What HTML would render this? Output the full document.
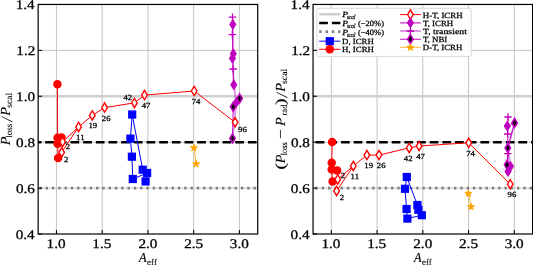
<!DOCTYPE html>
<html><head><meta charset="utf-8"><title>Plot</title>
<style>
html,body{margin:0;padding:0;background:#fff;width:533px;height:265px;overflow:hidden;}
svg{display:block;font-family:"Liberation Serif", serif;will-change:transform;text-rendering:geometricPrecision;}
svg text{stroke:#000;stroke-width:0.28px;}
svg text.ns{stroke:none;}
svg text.lg{stroke-width:0.26px;}
svg text.lb{stroke-width:0.08px;}
</style></head><body>
<svg width="533" height="265" viewBox="0 0 533 265" font-family='"Liberation Serif", serif'><defs><clipPath id="clipL"><rect x="38.15" y="4.45" width="219.54999999999998" height="229.55"/></clipPath><clipPath id="clipR"><rect x="313.05" y="4.45" width="219.55" height="229.55"/></clipPath></defs><rect width="533" height="265" fill="#fff"/><line x1="56.45" y1="4.45" x2="56.45" y2="234.0" stroke="#c4c4c4" stroke-width="1.0"/>
<line x1="102.19" y1="4.45" x2="102.19" y2="234.0" stroke="#c4c4c4" stroke-width="1.0"/>
<line x1="147.92" y1="4.45" x2="147.92" y2="234.0" stroke="#c4c4c4" stroke-width="1.0"/>
<line x1="193.66" y1="4.45" x2="193.66" y2="234.0" stroke="#c4c4c4" stroke-width="1.0"/>
<line x1="239.40" y1="4.45" x2="239.40" y2="234.0" stroke="#c4c4c4" stroke-width="1.0"/>
<line x1="38.15" y1="188.09" x2="257.7" y2="188.09" stroke="#c4c4c4" stroke-width="1.0"/>
<line x1="38.15" y1="142.18" x2="257.7" y2="142.18" stroke="#c4c4c4" stroke-width="1.0"/>
<line x1="38.15" y1="96.27" x2="257.7" y2="96.27" stroke="#c4c4c4" stroke-width="1.0"/>
<line x1="38.15" y1="50.36" x2="257.7" y2="50.36" stroke="#c4c4c4" stroke-width="1.0"/>
<g clip-path="url(#clipL)">
<line x1="38.15" y1="96.27" x2="257.7" y2="96.27" stroke="#cfcfcf" stroke-width="2.5"/>
<line x1="32.5" y1="142.18" x2="277.7" y2="142.18" stroke="#000" stroke-width="2.5" stroke-dasharray="8.7 3.97"/>
<line x1="39.3" y1="188.09" x2="277.7" y2="188.09" stroke="#808080" stroke-width="2.7" stroke-dasharray="2.4 3.9"/>
<polyline points="142.70,169.70 132.20,114.50 130.40,138.60 131.90,156.70 132.80,179.00 147.10,173.00" fill="none" stroke="#0000ff" stroke-width="1.0" stroke-linejoin="round" stroke-linecap="butt" />
<polyline points="147.10,173.00 145.60,181.40" fill="none" stroke="#0000ff" stroke-width="1.0" stroke-linejoin="round" stroke-linecap="butt" />
<rect x="138.60" y="165.60" width="8.20" height="8.20" fill="#0000ff"/>
<rect x="128.10" y="110.40" width="8.20" height="8.20" fill="#0000ff"/>
<rect x="126.30" y="134.50" width="8.20" height="8.20" fill="#0000ff"/>
<rect x="127.80" y="152.60" width="8.20" height="8.20" fill="#0000ff"/>
<rect x="128.70" y="174.90" width="8.20" height="8.20" fill="#0000ff"/>
<rect x="143.00" y="168.90" width="8.20" height="8.20" fill="#0000ff"/>
<rect x="141.50" y="177.30" width="8.20" height="8.20" fill="#0000ff"/>
<polyline points="57.40,84.20 57.60,137.70 57.60,143.80 58.10,157.90" fill="none" stroke="#ff0000" stroke-width="1.0" stroke-linejoin="round" stroke-linecap="butt" />
<polyline points="57.60,137.70 61.50,137.50" fill="none" stroke="#ff0000" stroke-width="1.0" stroke-linejoin="round" stroke-linecap="butt" />
<circle cx="57.40" cy="84.20" r="4.25" fill="#ff0000"/>
<circle cx="57.60" cy="137.70" r="4.25" fill="#ff0000"/>
<circle cx="57.60" cy="143.80" r="4.25" fill="#ff0000"/>
<circle cx="58.10" cy="157.90" r="4.25" fill="#ff0000"/>
<circle cx="61.50" cy="137.50" r="4.25" fill="#ff0000"/>
<polyline points="232.80,24.50 233.30,53.80 232.50,58.30 233.80,84.80 236.30,102.50 232.50,138.40" fill="none" stroke="#bf00bf" stroke-width="2.0" stroke-opacity="0.42" stroke-linejoin="round" stroke-linecap="butt" />
<polyline points="232.50,17.10 232.40,34.60 233.10,69.00 233.80,84.80" fill="none" stroke="#bf00bf" stroke-width="1.0" stroke-opacity="0.9" stroke-linejoin="round" stroke-linecap="butt" />
<polyline points="239.60,98.40 233.20,106.80 232.50,138.40" fill="none" stroke="#bf00bf" stroke-width="1.0" stroke-opacity="0.9" stroke-linejoin="round" stroke-linecap="butt" />
<path d="M232.80,19.60 L235.90,24.50 L232.80,29.40 L229.70,24.50 Z" fill="#bf00bf" stroke="#bf00bf" stroke-width="1.0" stroke-linejoin="miter" stroke-miterlimit="10"/>
<path d="M233.30,48.90 L236.40,53.80 L233.30,58.70 L230.20,53.80 Z" fill="#bf00bf" stroke="#bf00bf" stroke-width="1.0" stroke-linejoin="miter" stroke-miterlimit="10"/>
<path d="M232.50,53.40 L235.60,58.30 L232.50,63.20 L229.40,58.30 Z" fill="#bf00bf" stroke="#bf00bf" stroke-width="1.0" stroke-linejoin="miter" stroke-miterlimit="10"/>
<path d="M233.80,79.90 L236.90,84.80 L233.80,89.70 L230.70,84.80 Z" fill="#bf00bf" stroke="#bf00bf" stroke-width="1.0" stroke-linejoin="miter" stroke-miterlimit="10"/>
<path d="M236.30,97.60 L239.40,102.50 L236.30,107.40 L233.20,102.50 Z" fill="#bf00bf" stroke="#bf00bf" stroke-width="1.0" stroke-linejoin="miter" stroke-miterlimit="10"/>
<path d="M228.80,17.10 H236.20 M232.50,13.40 V20.80" stroke="#bf00bf" stroke-width="1.3" fill="none"/>
<path d="M228.70,34.60 H236.10 M232.40,30.90 V38.30" stroke="#bf00bf" stroke-width="1.3" fill="none"/>
<path d="M229.40,69.00 H236.80 M233.10,65.30 V72.70" stroke="#bf00bf" stroke-width="1.3" fill="none"/>
<path d="M239.60,93.90 L242.30,98.40 L239.60,102.90 L236.90,98.40 Z" fill="#000" stroke="#bf00bf" stroke-width="1.6" stroke-linejoin="miter" stroke-miterlimit="10"/>
<path d="M233.20,102.30 L235.90,106.80 L233.20,111.30 L230.50,106.80 Z" fill="#000" stroke="#bf00bf" stroke-width="1.6" stroke-linejoin="miter" stroke-miterlimit="10"/>
<path d="M232.50,133.90 L235.20,138.40 L232.50,142.90 L229.80,138.40 Z" fill="#000" stroke="#bf00bf" stroke-width="1.6" stroke-linejoin="miter" stroke-miterlimit="10"/>
<polyline points="62.60,141.90 78.60,126.90 92.30,115.40 104.60,107.60 134.40,102.90 144.50,95.10 194.20,91.00 235.10,122.30" fill="none" stroke="#ff0000" stroke-width="1.0" stroke-linejoin="round" stroke-linecap="butt" />
<polyline points="61.70,152.30 78.60,126.90" fill="none" stroke="#ff0000" stroke-width="1.0" stroke-linejoin="round" stroke-linecap="butt" />
<path d="M62.60,137.25 L65.40,141.90 L62.60,146.55 L59.80,141.90 Z" fill="#fff" stroke="#ff0000" stroke-width="1.4" stroke-linejoin="miter" stroke-miterlimit="10"/>
<path d="M78.60,122.25 L81.40,126.90 L78.60,131.55 L75.80,126.90 Z" fill="#fff" stroke="#ff0000" stroke-width="1.4" stroke-linejoin="miter" stroke-miterlimit="10"/>
<path d="M92.30,110.75 L95.10,115.40 L92.30,120.05 L89.50,115.40 Z" fill="#fff" stroke="#ff0000" stroke-width="1.4" stroke-linejoin="miter" stroke-miterlimit="10"/>
<path d="M104.60,102.95 L107.40,107.60 L104.60,112.25 L101.80,107.60 Z" fill="#fff" stroke="#ff0000" stroke-width="1.4" stroke-linejoin="miter" stroke-miterlimit="10"/>
<path d="M134.40,98.25 L137.20,102.90 L134.40,107.55 L131.60,102.90 Z" fill="#fff" stroke="#ff0000" stroke-width="1.4" stroke-linejoin="miter" stroke-miterlimit="10"/>
<path d="M144.50,90.45 L147.30,95.10 L144.50,99.75 L141.70,95.10 Z" fill="#fff" stroke="#ff0000" stroke-width="1.4" stroke-linejoin="miter" stroke-miterlimit="10"/>
<path d="M194.20,86.35 L197.00,91.00 L194.20,95.65 L191.40,91.00 Z" fill="#fff" stroke="#ff0000" stroke-width="1.4" stroke-linejoin="miter" stroke-miterlimit="10"/>
<path d="M235.10,117.65 L237.90,122.30 L235.10,126.95 L232.30,122.30 Z" fill="#fff" stroke="#ff0000" stroke-width="1.4" stroke-linejoin="miter" stroke-miterlimit="10"/>
<path d="M61.70,147.65 L64.50,152.30 L61.70,156.95 L58.90,152.30 Z" fill="#fff" stroke="#ff0000" stroke-width="1.4" stroke-linejoin="miter" stroke-miterlimit="10"/>
<polyline points="193.90,147.80 196.20,164.00" fill="none" stroke="#ffa500" stroke-width="1.0" stroke-opacity="0.8" stroke-linejoin="round" stroke-linecap="butt" />
<path d="M193.90,144.10 L194.73,146.66 L197.42,146.66 L195.24,148.24 L196.07,150.79 L193.90,149.21 L191.73,150.79 L192.56,148.24 L190.38,146.66 L193.07,146.66 Z" fill="#ffa500" stroke="#ffa500" stroke-width="1.0" stroke-linejoin="round"/>
<path d="M196.20,160.30 L197.03,162.86 L199.72,162.86 L197.54,164.44 L198.37,166.99 L196.20,165.41 L194.03,166.99 L194.86,164.44 L192.68,162.86 L195.37,162.86 Z" fill="#ffa500" stroke="#ffa500" stroke-width="1.0" stroke-linejoin="round"/>
<text transform="translate(65.77,149.00) scale(1.1200,1)" x="0" y="0" font-size="7.8" fill="#000" class="lg">2</text>
<text transform="translate(63.97,161.80) scale(1.1200,1)" x="0" y="0" font-size="7.8" fill="#000" class="lg">2</text>
<text transform="translate(76.11,139.60) scale(1.1200,1)" x="0" y="0" font-size="7.8" fill="#000" class="lg">11</text>
<text transform="translate(88.43,128.00) scale(1.1200,1)" x="0" y="0" font-size="7.8" fill="#000" class="lg">19</text>
<text transform="translate(101.77,120.70) scale(1.1200,1)" x="0" y="0" font-size="7.8" fill="#000" class="lg">26</text>
<text transform="translate(123.49,99.60) scale(1.1200,1)" x="0" y="0" font-size="7.8" fill="#000" class="lg">42</text>
<text transform="translate(141.67,107.50) scale(1.1200,1)" x="0" y="0" font-size="7.8" fill="#000" class="lg">47</text>
<text transform="translate(191.71,104.10) scale(1.1200,1)" x="0" y="0" font-size="7.8" fill="#000" class="lg">74</text>
<text transform="translate(238.12,131.60) scale(1.1200,1)" x="0" y="0" font-size="7.8" fill="#000" class="lg">96</text>
</g>
<rect x="38.15" y="4.45" width="219.55" height="229.55" fill="none" stroke="#000" stroke-width="1.2"/>
<line x1="56.45" y1="234.0" x2="56.45" y2="230.00" stroke="#000" stroke-width="1.05"/>
<text transform="translate(46.58,247.50) scale(1.1500,1)" x="0" y="0" font-size="13.2" fill="#000" >1.0</text>
<line x1="102.19" y1="234.0" x2="102.19" y2="230.00" stroke="#000" stroke-width="1.05"/>
<text transform="translate(92.33,247.50) scale(1.1500,1)" x="0" y="0" font-size="13.2" fill="#000" >1.5</text>
<line x1="147.92" y1="234.0" x2="147.92" y2="230.00" stroke="#000" stroke-width="1.05"/>
<text transform="translate(138.39,247.50) scale(1.1500,1)" x="0" y="0" font-size="13.2" fill="#000" >2.0</text>
<line x1="193.66" y1="234.0" x2="193.66" y2="230.00" stroke="#000" stroke-width="1.05"/>
<text transform="translate(184.14,247.50) scale(1.1500,1)" x="0" y="0" font-size="13.2" fill="#000" >2.5</text>
<line x1="239.40" y1="234.0" x2="239.40" y2="230.00" stroke="#000" stroke-width="1.05"/>
<text transform="translate(229.84,247.50) scale(1.1500,1)" x="0" y="0" font-size="13.2" fill="#000" >3.0</text>
<line x1="38.15" y1="234.00" x2="42.15" y2="234.00" stroke="#000" stroke-width="1.05"/>
<text transform="translate(15.71,238.70) scale(1.1500,1)" x="0" y="0" font-size="13.2" fill="#000" >0.4</text>
<line x1="38.15" y1="188.09" x2="42.15" y2="188.09" stroke="#000" stroke-width="1.05"/>
<text transform="translate(15.93,192.79) scale(1.1500,1)" x="0" y="0" font-size="13.2" fill="#000" >0.6</text>
<line x1="38.15" y1="142.18" x2="42.15" y2="142.18" stroke="#000" stroke-width="1.05"/>
<text transform="translate(16.05,146.88) scale(1.1500,1)" x="0" y="0" font-size="13.2" fill="#000" >0.8</text>
<line x1="38.15" y1="96.27" x2="42.15" y2="96.27" stroke="#000" stroke-width="1.05"/>
<text transform="translate(16.05,100.97) scale(1.1500,1)" x="0" y="0" font-size="13.2" fill="#000" >1.0</text>
<line x1="38.15" y1="50.36" x2="42.15" y2="50.36" stroke="#000" stroke-width="1.05"/>
<text transform="translate(16.31,55.06) scale(1.1500,1)" x="0" y="0" font-size="13.2" fill="#000" >1.2</text>
<line x1="38.15" y1="4.45" x2="42.15" y2="4.45" stroke="#000" stroke-width="1.05"/>
<text transform="translate(15.71,9.15) scale(1.1500,1)" x="0" y="0" font-size="13.2" fill="#000" >1.4</text>
<text transform="translate(138.86,262.40) scale(0.9563,1)" x="0" y="0" font-size="13.6" font-style="italic" fill="#000" class="lb">A</text>
<text transform="translate(147.10,265.00) scale(1.0188,1)" x="0" y="0" font-size="8.8" fill="#000" class="lb">eff</text>
<text transform="translate(9.90,145.22) rotate(-90) scale(1.0472,1)" x="0" y="0" font-size="13.9" font-style="italic" fill="#000" class="lb">P</text>
<text transform="translate(12.00,137.78) rotate(-90) scale(0.9926,1)" x="0" y="0" font-size="9.0" fill="#000" class="lb">loss</text>
<text transform="translate(11.60,121.51) rotate(-90) scale(0.9680,1)" x="0" y="0" font-size="15.5" font-style="italic" fill="#000" class="lb">/</text>
<text transform="translate(9.90,115.72) rotate(-90) scale(1.0472,1)" x="0" y="0" font-size="13.9" font-style="italic" fill="#000" class="lb">P</text>
<text transform="translate(12.00,107.80) rotate(-90) scale(1.0712,1)" x="0" y="0" font-size="9.0" fill="#000" class="lb">scal</text>
<line x1="331.35" y1="4.45" x2="331.35" y2="234.0" stroke="#c4c4c4" stroke-width="1.0"/>
<line x1="377.09" y1="4.45" x2="377.09" y2="234.0" stroke="#c4c4c4" stroke-width="1.0"/>
<line x1="422.82" y1="4.45" x2="422.82" y2="234.0" stroke="#c4c4c4" stroke-width="1.0"/>
<line x1="468.56" y1="4.45" x2="468.56" y2="234.0" stroke="#c4c4c4" stroke-width="1.0"/>
<line x1="514.30" y1="4.45" x2="514.30" y2="234.0" stroke="#c4c4c4" stroke-width="1.0"/>
<line x1="313.05" y1="188.09" x2="532.6" y2="188.09" stroke="#c4c4c4" stroke-width="1.0"/>
<line x1="313.05" y1="142.18" x2="532.6" y2="142.18" stroke="#c4c4c4" stroke-width="1.0"/>
<line x1="313.05" y1="96.27" x2="532.6" y2="96.27" stroke="#c4c4c4" stroke-width="1.0"/>
<line x1="313.05" y1="50.36" x2="532.6" y2="50.36" stroke="#c4c4c4" stroke-width="1.0"/>
<g clip-path="url(#clipR)">
<line x1="313.05" y1="96.27" x2="532.6" y2="96.27" stroke="#cfcfcf" stroke-width="2.5"/>
<line x1="315.7" y1="142.18" x2="552.6" y2="142.18" stroke="#000" stroke-width="2.5" stroke-dasharray="8.7 3.97"/>
<line x1="315.4" y1="188.09" x2="552.6" y2="188.09" stroke="#808080" stroke-width="2.7" stroke-dasharray="2.4 3.9"/>
<polyline points="417.40,205.00 406.80,177.00 405.00,188.80 406.60,209.00 407.40,218.60 421.80,215.20" fill="none" stroke="#0000ff" stroke-width="1.0" stroke-linejoin="round" stroke-linecap="butt" />
<rect x="413.30" y="200.90" width="8.20" height="8.20" fill="#0000ff"/>
<rect x="402.70" y="172.90" width="8.20" height="8.20" fill="#0000ff"/>
<rect x="400.90" y="184.70" width="8.20" height="8.20" fill="#0000ff"/>
<rect x="402.50" y="204.90" width="8.20" height="8.20" fill="#0000ff"/>
<rect x="403.30" y="214.50" width="8.20" height="8.20" fill="#0000ff"/>
<rect x="417.70" y="211.10" width="8.20" height="8.20" fill="#0000ff"/>
<rect x="414.30" y="205.70" width="8.20" height="8.20" fill="#0000ff"/>
<polyline points="332.20,142.00 331.70,162.70 331.70,169.50 332.60,181.50" fill="none" stroke="#ff0000" stroke-width="1.0" stroke-linejoin="round" stroke-linecap="butt" />
<polyline points="331.70,169.50 337.20,170.50" fill="none" stroke="#ff0000" stroke-width="1.0" stroke-linejoin="round" stroke-linecap="butt" />
<circle cx="332.20" cy="142.00" r="4.25" fill="#ff0000"/>
<circle cx="331.70" cy="162.70" r="4.25" fill="#ff0000"/>
<circle cx="331.70" cy="169.50" r="4.25" fill="#ff0000"/>
<circle cx="332.60" cy="181.50" r="4.25" fill="#ff0000"/>
<circle cx="337.20" cy="170.50" r="4.25" fill="#ff0000"/>
<polyline points="507.30,126.00 514.60,122.90 507.80,147.90 510.50,166.30 508.00,171.50" fill="none" stroke="#bf00bf" stroke-width="2.0" stroke-opacity="0.42" stroke-linejoin="round" stroke-linecap="butt" />
<polyline points="508.00,117.00 507.70,134.00 507.80,153.70 508.00,171.50" fill="none" stroke="#bf00bf" stroke-width="1.0" stroke-opacity="0.9" stroke-linejoin="round" stroke-linecap="butt" />
<polyline points="514.60,122.90 507.80,147.90 507.10,164.80" fill="none" stroke="#bf00bf" stroke-width="1.0" stroke-opacity="0.9" stroke-linejoin="round" stroke-linecap="butt" />
<path d="M507.30,121.10 L510.40,126.00 L507.30,130.90 L504.20,126.00 Z" fill="#bf00bf" stroke="#bf00bf" stroke-width="1.0" stroke-linejoin="miter" stroke-miterlimit="10"/>
<path d="M510.50,161.40 L513.60,166.30 L510.50,171.20 L507.40,166.30 Z" fill="#bf00bf" stroke="#bf00bf" stroke-width="1.0" stroke-linejoin="miter" stroke-miterlimit="10"/>
<path d="M508.00,166.60 L511.10,171.50 L508.00,176.40 L504.90,171.50 Z" fill="#bf00bf" stroke="#bf00bf" stroke-width="1.0" stroke-linejoin="miter" stroke-miterlimit="10"/>
<path d="M504.30,117.00 H511.70 M508.00,113.30 V120.70" stroke="#bf00bf" stroke-width="1.3" fill="none"/>
<path d="M504.00,134.00 H511.40 M507.70,130.30 V137.70" stroke="#bf00bf" stroke-width="1.3" fill="none"/>
<path d="M504.10,153.70 H511.50 M507.80,150.00 V157.40" stroke="#bf00bf" stroke-width="1.3" fill="none"/>
<path d="M514.60,118.40 L517.30,122.90 L514.60,127.40 L511.90,122.90 Z" fill="#000" stroke="#bf00bf" stroke-width="1.6" stroke-linejoin="miter" stroke-miterlimit="10"/>
<path d="M507.80,143.40 L510.50,147.90 L507.80,152.40 L505.10,147.90 Z" fill="#000" stroke="#bf00bf" stroke-width="1.6" stroke-linejoin="miter" stroke-miterlimit="10"/>
<path d="M507.10,160.30 L509.80,164.80 L507.10,169.30 L504.40,164.80 Z" fill="#000" stroke="#bf00bf" stroke-width="1.6" stroke-linejoin="miter" stroke-miterlimit="10"/>
<polyline points="337.70,179.40 353.30,166.00 366.90,155.10 379.00,155.10 409.20,147.90 419.10,146.00 468.70,142.80 510.20,184.20" fill="none" stroke="#ff0000" stroke-width="1.0" stroke-linejoin="round" stroke-linecap="butt" />
<polyline points="336.60,191.00 353.30,166.00" fill="none" stroke="#ff0000" stroke-width="1.0" stroke-linejoin="round" stroke-linecap="butt" />
<path d="M337.70,174.75 L340.50,179.40 L337.70,184.05 L334.90,179.40 Z" fill="#fff" stroke="#ff0000" stroke-width="1.4" stroke-linejoin="miter" stroke-miterlimit="10"/>
<path d="M353.30,161.35 L356.10,166.00 L353.30,170.65 L350.50,166.00 Z" fill="#fff" stroke="#ff0000" stroke-width="1.4" stroke-linejoin="miter" stroke-miterlimit="10"/>
<path d="M366.90,150.45 L369.70,155.10 L366.90,159.75 L364.10,155.10 Z" fill="#fff" stroke="#ff0000" stroke-width="1.4" stroke-linejoin="miter" stroke-miterlimit="10"/>
<path d="M379.00,150.45 L381.80,155.10 L379.00,159.75 L376.20,155.10 Z" fill="#fff" stroke="#ff0000" stroke-width="1.4" stroke-linejoin="miter" stroke-miterlimit="10"/>
<path d="M409.20,143.25 L412.00,147.90 L409.20,152.55 L406.40,147.90 Z" fill="#fff" stroke="#ff0000" stroke-width="1.4" stroke-linejoin="miter" stroke-miterlimit="10"/>
<path d="M419.10,141.35 L421.90,146.00 L419.10,150.65 L416.30,146.00 Z" fill="#fff" stroke="#ff0000" stroke-width="1.4" stroke-linejoin="miter" stroke-miterlimit="10"/>
<path d="M468.70,138.15 L471.50,142.80 L468.70,147.45 L465.90,142.80 Z" fill="#fff" stroke="#ff0000" stroke-width="1.4" stroke-linejoin="miter" stroke-miterlimit="10"/>
<path d="M510.20,179.55 L513.00,184.20 L510.20,188.85 L507.40,184.20 Z" fill="#fff" stroke="#ff0000" stroke-width="1.4" stroke-linejoin="miter" stroke-miterlimit="10"/>
<path d="M336.60,186.35 L339.40,191.00 L336.60,195.65 L333.80,191.00 Z" fill="#fff" stroke="#ff0000" stroke-width="1.4" stroke-linejoin="miter" stroke-miterlimit="10"/>
<polyline points="468.40,193.50 471.00,206.80" fill="none" stroke="#ffa500" stroke-width="1.0" stroke-opacity="0.8" stroke-linejoin="round" stroke-linecap="butt" />
<path d="M468.40,189.80 L469.23,192.36 L471.92,192.36 L469.74,193.94 L470.57,196.49 L468.40,194.91 L466.23,196.49 L467.06,193.94 L464.88,192.36 L467.57,192.36 Z" fill="#ffa500" stroke="#ffa500" stroke-width="1.0" stroke-linejoin="round"/>
<path d="M471.00,203.10 L471.83,205.66 L474.52,205.66 L472.34,207.24 L473.17,209.79 L471.00,208.21 L468.83,209.79 L469.66,207.24 L467.48,205.66 L470.17,205.66 Z" fill="#ffa500" stroke="#ffa500" stroke-width="1.0" stroke-linejoin="round"/>
<text transform="translate(340.77,178.00) scale(1.1200,1)" x="0" y="0" font-size="7.8" fill="#000" class="lg">2</text>
<text transform="translate(339.77,200.30) scale(1.1200,1)" x="0" y="0" font-size="7.8" fill="#000" class="lg">2</text>
<text transform="translate(350.61,178.60) scale(1.1200,1)" x="0" y="0" font-size="7.8" fill="#000" class="lg">11</text>
<text transform="translate(364.33,168.30) scale(1.1200,1)" x="0" y="0" font-size="7.8" fill="#000" class="lg">19</text>
<text transform="translate(376.77,168.30) scale(1.1200,1)" x="0" y="0" font-size="7.8" fill="#000" class="lg">26</text>
<text transform="translate(403.79,160.50) scale(1.1200,1)" x="0" y="0" font-size="7.8" fill="#000" class="lg">42</text>
<text transform="translate(416.17,158.60) scale(1.1200,1)" x="0" y="0" font-size="7.8" fill="#000" class="lg">47</text>
<text transform="translate(466.21,156.00) scale(1.1200,1)" x="0" y="0" font-size="7.8" fill="#000" class="lg">74</text>
<text transform="translate(507.62,196.50) scale(1.1200,1)" x="0" y="0" font-size="7.8" fill="#000" class="lg">96</text>
<rect x="316.9" y="8.3" width="154.3" height="48.3" rx="2" ry="2" fill="#fff" fill-opacity="0.9" stroke="#dadada" stroke-width="1"/>
<line x1="319.2" y1="14.3" x2="340.4" y2="14.3" stroke="#cfcfcf" stroke-width="2.5"/>
<line x1="319.2" y1="22.9" x2="340.4" y2="22.9" stroke="#000" stroke-width="2.5" stroke-dasharray="8.7 3.97"/>
<line x1="319.2" y1="31.6" x2="340.4" y2="31.6" stroke="#808080" stroke-width="2.7" stroke-dasharray="2.4 3.9"/>
<line x1="319.2" y1="41.2" x2="340.4" y2="41.2" stroke="#0000ff" stroke-width="1"/>
<rect x="325.70" y="37.10" width="8.20" height="8.20" fill="#0000ff"/>
<line x1="319.2" y1="49.3" x2="340.4" y2="49.3" stroke="#ff0000" stroke-width="1"/>
<circle cx="329.80" cy="49.30" r="4.25" fill="#ff0000"/>
<text transform="translate(342.15,17.00) scale(1.1998,1)" x="0" y="0" font-size="7.9" font-style="italic" fill="#000" class="lg">P</text>
<text transform="translate(347.04,19.00) scale(0.8126,1)" x="0" y="0" font-size="6.4" font-style="italic" fill="#000" class="lg">scal</text>
<text transform="translate(342.15,26.00) scale(1.1998,1)" x="0" y="0" font-size="7.9" font-style="italic" fill="#000" class="lg">P</text>
<text transform="translate(347.04,28.00) scale(0.8126,1)" x="0" y="0" font-size="6.4" font-style="italic" fill="#000" class="lg">scal</text>
<text transform="translate(342.15,35.00) scale(1.1998,1)" x="0" y="0" font-size="7.9" font-style="italic" fill="#000" class="lg">P</text>
<text transform="translate(347.04,37.00) scale(0.8126,1)" x="0" y="0" font-size="6.4" font-style="italic" fill="#000" class="lg">scal</text>
<text transform="translate(358.03,26.00) scale(1.0722,1)" x="0" y="0" font-size="7.9" fill="#000" class="lg">(−20%)</text>
<text transform="translate(358.03,35.00) scale(1.0722,1)" x="0" y="0" font-size="7.9" fill="#000" class="lg">(−40%)</text>
<text transform="translate(342.05,44.00) scale(1.1115,1)" x="0" y="0" font-size="7.9" fill="#000" class="lg">D, ICRH</text>
<text transform="translate(342.04,52.00) scale(1.1222,1)" x="0" y="0" font-size="7.9" fill="#000" class="lg">H, ICRH</text>
<line x1="400.1" y1="14.6" x2="420.8" y2="14.6" stroke="#ff0000" stroke-width="1"/>
<path d="M410.40,9.95 L413.20,14.60 L410.40,19.25 L407.60,14.60 Z" fill="#fff" stroke="#ff0000" stroke-width="1.4" stroke-linejoin="miter" stroke-miterlimit="10"/>
<line x1="400.1" y1="22.8" x2="420.8" y2="22.8" stroke="#bf00bf" stroke-opacity="0.6" stroke-width="1.8"/>
<line x1="400.1" y1="31.0" x2="420.8" y2="31.0" stroke="#bf00bf" stroke-opacity="0.42" stroke-width="1.8"/>
<line x1="400.1" y1="39.2" x2="420.8" y2="39.2" stroke="#bf00bf" stroke-width="1.1"/>
<line x1="400.1" y1="47.4" x2="420.8" y2="47.4" stroke="#ffa500" stroke-opacity="0.8" stroke-width="1"/>
<path d="M410.40,17.90 L413.50,22.80 L410.40,27.70 L407.30,22.80 Z" fill="#bf00bf" stroke="#bf00bf" stroke-width="1.0" stroke-linejoin="miter" stroke-miterlimit="10"/>
<path d="M406.70,31.00 H414.10 M410.40,27.30 V34.70" stroke="#bf00bf" stroke-width="1.3" fill="none"/>
<path d="M410.40,34.70 L413.10,39.20 L410.40,43.70 L407.70,39.20 Z" fill="#000" stroke="#bf00bf" stroke-width="1.6" stroke-linejoin="miter" stroke-miterlimit="10"/>
<path d="M410.40,43.70 L411.23,46.26 L413.92,46.26 L411.74,47.84 L412.57,50.39 L410.40,48.81 L408.23,50.39 L409.06,47.84 L406.88,46.26 L409.57,46.26 Z" fill="#ffa500" stroke="#ffa500" stroke-width="1.0" stroke-linejoin="round"/>
<text transform="translate(422.84,18.00) scale(1.1231,1)" x="0" y="0" font-size="7.9" fill="#000" class="lg">H-T, ICRH</text>
<text transform="translate(422.94,26.00) scale(1.1182,1)" x="0" y="0" font-size="7.9" fill="#000" class="lg">T, ICRH</text>
<text transform="translate(422.92,34.00) scale(1.2434,1)" x="0" y="0" font-size="7.9" fill="#000" class="lg">T, transient</text>
<text transform="translate(422.94,42.00) scale(1.1156,1)" x="0" y="0" font-size="7.9" fill="#000" class="lg">T, NBI</text>
<text transform="translate(422.85,50.00) scale(1.1175,1)" x="0" y="0" font-size="7.9" fill="#000" class="lg">D-T, ICRH</text>
</g>
<rect x="313.05" y="4.45" width="219.55" height="229.55" fill="none" stroke="#000" stroke-width="1.2"/>
<line x1="331.35" y1="234.0" x2="331.35" y2="230.00" stroke="#000" stroke-width="1.05"/>
<text transform="translate(321.48,247.50) scale(1.1500,1)" x="0" y="0" font-size="13.2" fill="#000" >1.0</text>
<line x1="377.09" y1="234.0" x2="377.09" y2="230.00" stroke="#000" stroke-width="1.05"/>
<text transform="translate(367.23,247.50) scale(1.1500,1)" x="0" y="0" font-size="13.2" fill="#000" >1.5</text>
<line x1="422.82" y1="234.0" x2="422.82" y2="230.00" stroke="#000" stroke-width="1.05"/>
<text transform="translate(413.29,247.50) scale(1.1500,1)" x="0" y="0" font-size="13.2" fill="#000" >2.0</text>
<line x1="468.56" y1="234.0" x2="468.56" y2="230.00" stroke="#000" stroke-width="1.05"/>
<text transform="translate(459.04,247.50) scale(1.1500,1)" x="0" y="0" font-size="13.2" fill="#000" >2.5</text>
<line x1="514.30" y1="234.0" x2="514.30" y2="230.00" stroke="#000" stroke-width="1.05"/>
<text transform="translate(504.74,247.50) scale(1.1500,1)" x="0" y="0" font-size="13.2" fill="#000" >3.0</text>
<line x1="313.05" y1="234.00" x2="317.05" y2="234.00" stroke="#000" stroke-width="1.05"/>
<text transform="translate(290.61,238.70) scale(1.1500,1)" x="0" y="0" font-size="13.2" fill="#000" >0.4</text>
<line x1="313.05" y1="188.09" x2="317.05" y2="188.09" stroke="#000" stroke-width="1.05"/>
<text transform="translate(290.83,192.79) scale(1.1500,1)" x="0" y="0" font-size="13.2" fill="#000" >0.6</text>
<line x1="313.05" y1="142.18" x2="317.05" y2="142.18" stroke="#000" stroke-width="1.05"/>
<text transform="translate(290.95,146.88) scale(1.1500,1)" x="0" y="0" font-size="13.2" fill="#000" >0.8</text>
<line x1="313.05" y1="96.27" x2="317.05" y2="96.27" stroke="#000" stroke-width="1.05"/>
<text transform="translate(290.95,100.97) scale(1.1500,1)" x="0" y="0" font-size="13.2" fill="#000" >1.0</text>
<line x1="313.05" y1="50.36" x2="317.05" y2="50.36" stroke="#000" stroke-width="1.05"/>
<text transform="translate(291.21,55.06) scale(1.1500,1)" x="0" y="0" font-size="13.2" fill="#000" >1.2</text>
<line x1="313.05" y1="4.45" x2="317.05" y2="4.45" stroke="#000" stroke-width="1.05"/>
<text transform="translate(290.61,9.15) scale(1.1500,1)" x="0" y="0" font-size="13.2" fill="#000" >1.4</text>
<text transform="translate(413.76,262.40) scale(0.9563,1)" x="0" y="0" font-size="13.6" font-style="italic" fill="#000" class="lb">A</text>
<text transform="translate(422.00,265.00) scale(1.0188,1)" x="0" y="0" font-size="8.8" fill="#000" class="lb">eff</text>
<text transform="translate(285.20,169.46) rotate(-90) scale(1.3905,1)" x="0" y="0" font-size="14.0" fill="#000" class="lb">(</text>
<text transform="translate(284.90,163.32) rotate(-90) scale(1.0228,1)" x="0" y="0" font-size="13.9" font-style="italic" fill="#000" class="lb">P</text>
<text transform="translate(287.20,155.37) rotate(-90) scale(0.9481,1)" x="0" y="0" font-size="9.0" fill="#000" class="lb">loss</text>
<text transform="translate(285.40,138.88) rotate(-90) scale(1.2587,1)" x="0" y="0" font-size="14.0" fill="#000" class="lb">−</text>
<text transform="translate(284.90,125.92) rotate(-90) scale(1.0472,1)" x="0" y="0" font-size="13.9" font-style="italic" fill="#000" class="lb">P</text>
<text transform="translate(287.20,115.57) rotate(-90) scale(0.9641,1)" x="0" y="0" font-size="9.0" fill="#000" class="lb">rad</text>
<text transform="translate(285.20,105.03) rotate(-90) scale(1.3905,1)" x="0" y="0" font-size="14.0" fill="#000" class="lb">)</text>
<text transform="translate(287.20,97.31) rotate(-90) scale(0.9680,1)" x="0" y="0" font-size="15.5" font-style="italic" fill="#000" class="lb">/</text>
<text transform="translate(284.90,91.72) rotate(-90) scale(1.0472,1)" x="0" y="0" font-size="13.9" font-style="italic" fill="#000" class="lb">P</text>
<text transform="translate(287.20,84.00) rotate(-90) scale(1.0861,1)" x="0" y="0" font-size="9.0" fill="#000" class="lb">scal</text></svg>
</body></html>
